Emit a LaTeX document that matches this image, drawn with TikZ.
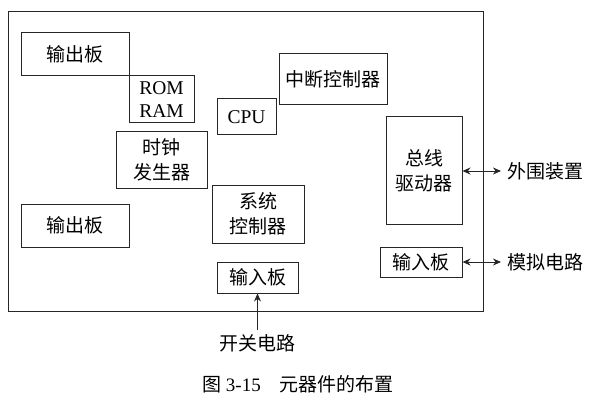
\documentclass[tikz,border=0pt]{standalone}
\usepackage{fontspec}
\setmainfont{Liberation Serif}
\newfontfamily\cjk{Noto Sans CJK SC}
\usetikzlibrary{arrows.meta}
\begin{document}
\begin{tikzpicture}[x=1pt,y=-1pt,
  box/.style={draw=black!85,line width=1pt,inner sep=0pt,align=center,font=\fontsize{19}{25}\selectfont\cjk},
  lbl/.style={inner sep=0pt,font=\fontsize{19}{25}\selectfont\cjk},
  conn/.style={line width=1pt,draw=black!85},
  tip/.style={-{Stealth[length=8pt,width=7pt]}},
  dtip/.style={{Stealth[length=8pt,width=7pt]}-{Stealth[length=8pt,width=7pt]}}]
\useasboundingbox (0,0) rectangle (596,406);
\node[draw=black!85,line width=1pt,minimum width=475pt,minimum height=299pt,inner sep=0pt] (outer) at (245.5,161.5) {};
\node[box,minimum width=108pt,minimum height=43pt] (out1) at (75,54.5) {输出板};
\node[box,minimum width=65pt,minimum height=47pt,font=\fontsize{19.5}{23}\selectfont] (rom) at (161.5,99.5) {ROM\\RAM};
\node[box,minimum width=59pt,minimum height=36pt,font=\fontsize{19.5}{23}\selectfont] (cpu) at (246.5,117) {CPU};
\node[box,minimum width=108pt,minimum height=51pt] (int) at (333,79.5) {中断控制器};
\node[box,minimum width=91pt,minimum height=56pt] (clk) at (161.5,160) {时钟\\发生器};
\node[box,minimum width=76pt,minimum height=107pt] (bus) at (424,170.5) {总线\\驱动器};
\node[box,minimum width=108pt,minimum height=43pt] (out2) at (75,225.5) {输出板};
\node[box,minimum width=92pt,minimum height=58pt] (sys) at (258,214) {系统\\控制器};
\node[box,minimum width=81pt,minimum height=31pt] (in1) at (257.5,277.5) {输入板};
\node[box,minimum width=82pt,minimum height=30pt] (in2) at (421,262) {输入板};
\node[lbl,anchor=west] (per) at (507,171) {外围装置};
\node[lbl,anchor=west] (ana) at (507,262) {模拟电路};
\node[lbl] (sw) at (257.5,343) {开关电路};
\node[inner sep=0pt,font=\fontsize{19}{23}\selectfont] (cap) at (298,384) {{\cjk 图} 3-15\hspace{1em}{\cjk 元器件的布置}};
\draw[conn,dtip,shorten >=6pt] (bus.east |- per.west) -- (per.west);
\draw[conn,dtip,shorten >=6pt] (in2.east) -- (ana.west);
\draw[conn,tip,shorten <=4pt] (sw.north) -- (in1.south);
\end{tikzpicture}
\end{document}
